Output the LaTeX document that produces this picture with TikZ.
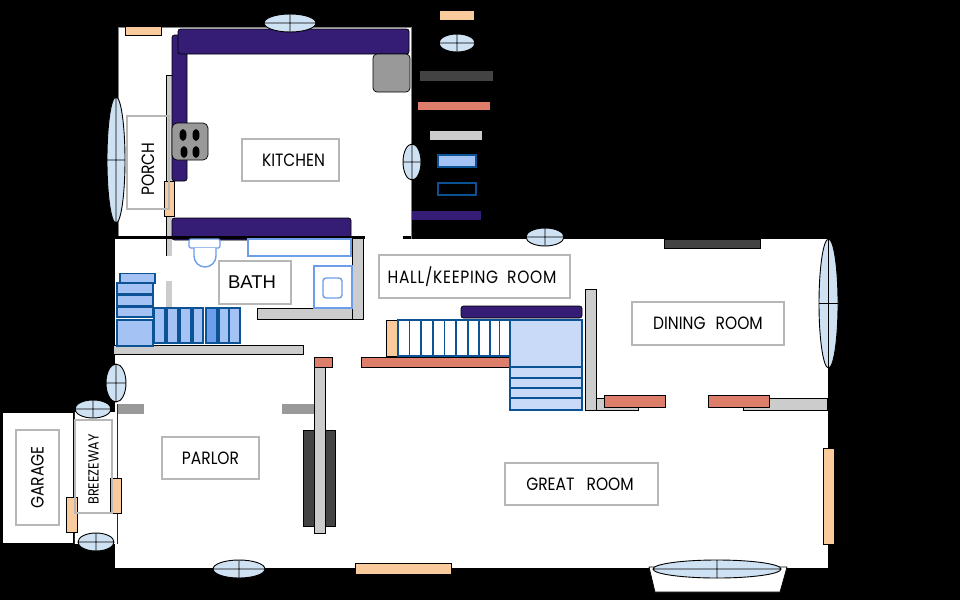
\documentclass[tikz,border=0pt]{standalone}
\usepackage{fontspec}
\setmainfont{Poppins}[FakeStretch=0.87]
\newfontfamily\bathfont{Liberation Sans}
\definecolor{doorc}{HTML}{F9CB9C}
\definecolor{glassc}{HTML}{CFE2F3}
\definecolor{brickc}{HTML}{DD7E6B}
\definecolor{stonec}{HTML}{434343}
\definecolor{wallc}{HTML}{CCCCCC}
\definecolor{midc}{HTML}{999999}
\definecolor{cabc}{HTML}{351C75}
\definecolor{stepc}{HTML}{A4C2F4}
\definecolor{landc}{HTML}{C9DAF8}
\definecolor{edgec}{HTML}{0B5394}
\definecolor{fixc}{HTML}{6D9EEB}
\definecolor{labelc}{HTML}{B7B7B7}
\tikzset{
  door/.style={fill=doorc,draw=black,line width=.7pt},
  pane/.style={fill=glassc,draw=black,line width=.9pt},
  brick/.style={fill=brickc,draw=black,line width=.7pt},
  stone/.style={fill=stonec,draw=black,line width=.7pt},
  wallpart/.style={fill=wallc,draw=black,line width=.7pt},
  midwall/.style={fill=midc},
  counter/.style={fill=cabc,draw=black,line width=.7pt,rounded corners=2.5pt},
  stepbox/.style={fill=stepc,draw=edgec,line width=1.8pt},
  flight/.style={fill=white,draw=edgec,line width=1.8pt},
  fixture/.style={fill=white,draw=fixc,line width=1.4pt},
  room/.style={draw=labelc,line width=1.9pt,inner sep=0pt,text=black,font=\fontsize{17.8}{20}\selectfont},
}
\begin{document}
\begin{tikzpicture}[x=1pt,y=-1pt]
    \useasboundingbox[fill=black] (0,0) rectangle (960,600);
    \fill[white,draw=gray,line width=.5pt] (118,27) rectangle (411,239);
    \fill[white] (115,239) rectangle (827.5,568);
    \fill[white] (827,239) rectangle (828,369);
    \fill[white,draw=black,line width=.7pt] (649,567) -- (655,592) -- (780,592) -- (787,567) -- cycle;
    \fill[white] (3,413) rectangle (73,543);
    \fill[white] (75,412) rectangle (117,544);
    \draw[line width=1.6pt,draw=black!85] (74.5,412) -- (74.5,544) (117.5,404) -- (117.5,544);
    \fill[midwall] (118,404) rectangle (144,414);
    \fill[midwall] (282,404) rectangle (315,414);
    \draw[stone] (303,430) rectangle (335,526);
    \draw[wallpart] (314,367) rectangle (325,533);
    \draw[brick] (314,357) rectangle (332,367);
    \draw[brick] (361,357) rectangle (510,367);
    \draw[stone] (664,239) rectangle (760,248);
    \draw[wallpart] (113,345) rectangle (303,354);
    \draw[wallpart] (257,308) rectangle (363,319);
    \draw[wallpart] (352,237) rectangle (363,319);
    \fill[wallc] (166,75) rectangle (172,256);
    \fill[wallc] (166,281) rectangle (172,308);
    \draw[black,line width=.5pt] (166,256) -- (166,75) -- (172,75);
    \draw[counter] (172,35) rectangle (187,181);
    \draw[counter] (178,29) rectangle (409,54);
    \draw[counter] (172,218) rectangle (351,240);
    \fill[black] (115,236) rectangle (365,239);
    \fill[black] (403,236) rectangle (411,239);
    \draw[midwall,draw=black,line width=.7pt,rounded corners=4pt] (373,54) rectangle (410,92);
    \draw[midwall,draw=black,line width=.7pt,rounded corners=5pt] (172,123) rectangle (208,160);
    \foreach \bx/\by in {183/135,196/135,184/152,196/152}
      \fill[black] (\bx,\by) ellipse [x radius=3.5,y radius=6];
    \draw[door] (125,26) rectangle (161,35);
    \draw[door] (164.5,181) rectangle (174.5,216);
    \draw[fixture,rounded corners=1.5pt] (189,239) rectangle (220,248);
    \draw[fixture] (194,248) -- (194,256) arc [start angle=180,end angle=0,x radius=11,y radius=11] -- (216,248);
    \draw[fixture] (248,239) rectangle (351,256);
    \draw[fixture] (314,266) rectangle (352,308);
    \draw[fixture,rounded corners=3pt] (323,278) rectangle (342,298);
    \draw[stepbox] (120,273.5) rectangle (155,283);
    \foreach \sy/\ey in {283/294,295/306,307/317}
      \draw[stepbox] (117,\sy) rectangle (153,\ey);
    \draw[stepbox] (117,320) rectangle (153,346);
    \foreach \sx/\ex in {154/165,167/178,180/191,193/203,219/229,229/240}
      \draw[stepbox] (\sx,308) rectangle (\ex,343);
    \draw[stepbox,fill=fixc] (206,308) rectangle (217,343);
    \draw[door] (386,320) rectangle (397,356);
    \foreach \sx/\ex in {398/409.5,409.5/421,421/433,433/444.5,444.5/456,456/468,468/479,479/490,490/499.5,499.5/510}
      \draw[flight] (\sx,320) rectangle (\ex,356);
    \draw[counter] (461,306) rectangle (582,318);
    \draw[stepbox,fill=landc] (510,320) rectangle (582,367);
    \foreach \sy/\ey in {367/378,378/388,388/398,398/410}
      \draw[stepbox,fill=landc] (510,\sy) rectangle (582,\ey);
    \draw[wallpart] (596,398) rectangle (638,410);
    \draw[wallpart] (585,289) rectangle (596,410);
    \draw[wallpart] (743,398) rectangle (827,410);
    \draw[brick] (604,395) rectangle (665,407);
    \draw[brick] (708,395) rectangle (769,407);
    \draw[door] (823,448) rectangle (834,544);
    \draw[door] (355,563) rectangle (451,574);
    \draw[door] (66,497) rectangle (77,532);
    \draw[door] (110,478) rectangle (121,513);
    \foreach \wx/\wy/\wa/\wb in {457/43/18/9,290/23/26/9,116/160/9/63,412/162/9/18,116/383/10/19,93/409/18/9,96/542/18/9,239/569/26/9,545/237/19/9,828.5/303.5/9.5/64.5,717/569/64/9}
      \draw[pane] (\wx,\wy) ellipse [x radius=\wa,y radius=\wb] (\wx-\wa,\wy) -- (\wx+\wa,\wy) (\wx,\wy-\wb) -- (\wx,\wy+\wb);
    \fill[doorc] (440,11) rectangle (474,20);
    \fill[stonec] (420,71) rectangle (493,81);
    \fill[brickc] (418,102) rectangle (490,110);
    \fill[wallc] (430,131) rectangle (482,140);
    \draw[stepbox] (438,155) rectangle (476,167);
    \draw[edgec,line width=1.8pt] (438,183) rectangle (476,195);
    \fill[cabc] (412,211) rectangle (481,220);
    \node(PORCH) at (148,162.5) [room,rotate=90,minimum width=93pt,minimum height=42pt] {\hspace*{-13pt}PORCH};
    \node(KITCHEN) at (290.5,160) [room,minimum width=97pt,minimum height=42pt] {\hspace*{6pt}KITCHEN};
    \node(BATH) at (255,282.5) [room,minimum width=72pt,minimum height=43pt,font=\bathfont\fontsize{18.5}{22}\selectfont] {\hspace*{-6pt}BATH};
    \node(HALL) at (474.5,276.5) [room,minimum width=191pt,minimum height=43pt] {\hspace*{-5pt}\addfontfeature{LetterSpace=4}HALL/KEEPING\hspace{4pt} ROOM};
    \node(DINING) at (708,323.5) [room,minimum width=152pt,minimum height=43pt] {DINING\hspace{6pt} ROOM};
    \node(PARLOR) at (210.5,458) [room,minimum width=97pt,minimum height=42pt] {PARLOR};
    \node(GREAT) at (581.5,484) [room,minimum width=153pt,minimum height=42pt] {\hspace*{-3pt}GREAT\hspace{8pt} ROOM};
    \node(GARAGE) at (37.5,477.5) [room,rotate=90,minimum width=95pt,minimum height=43pt] {GARAGE};
    \node(BREEZEWAY) at (93.5,466.5) [room,rotate=90,minimum width=93pt,minimum height=37pt,font=\fontsize{14.6}{16}\selectfont] {\hspace*{-6pt}BREEZEWAY};
  \end{tikzpicture}
\end{document}
